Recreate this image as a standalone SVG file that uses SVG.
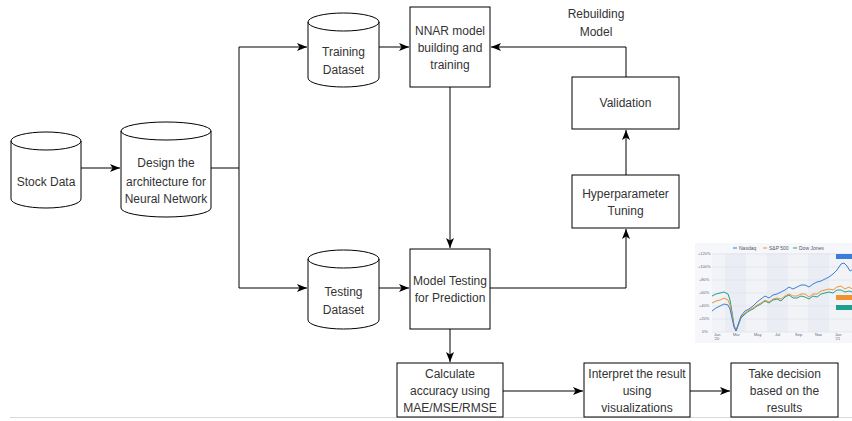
<svg xmlns="http://www.w3.org/2000/svg" width="852" height="421" viewBox="0 0 852 421">
<style>
.s{fill:#fff;stroke:#000;stroke-width:1}
.t{font-family:"Liberation Sans",Arial,sans-serif;font-size:12px;fill:#333;text-anchor:middle}
.c{fill:none;stroke:#000;stroke-width:1}
.ax{font-family:"Liberation Sans",Arial,sans-serif;font-size:4px;fill:#667}
.lg{font-family:"Liberation Sans",Arial,sans-serif;font-size:5px;fill:#556}
</style>
<defs>
<marker id="a" markerUnits="userSpaceOnUse" markerWidth="10" markerHeight="10" viewBox="0 0 10 8" refX="10" refY="4" orient="auto">
<path d="M0,0 L10,4 L0,8 L2.5,4 Z" fill="#000"/>
</marker>
</defs>
<rect width="852" height="421" fill="#fff"/>
<line x1="10" y1="417.5" x2="852" y2="417.5" stroke="#d9d9d9" stroke-width="1"/>

<g id="connectors">
<path class="c" d="M81,168 H120" marker-end="url(#a)"/>
<path class="c" d="M211,168 H239 V47 H307" marker-end="url(#a)"/>
<path class="c" d="M239,168 V288 H307" marker-end="url(#a)"/>
<path class="c" d="M379,47 H409" marker-end="url(#a)"/>
<path class="c" d="M626,77 V47 H491" marker-end="url(#a)"/>
<path class="c" d="M450,87 V248" marker-end="url(#a)"/>
<path class="c" d="M379,288 H409" marker-end="url(#a)"/>
<path class="c" d="M490,288 H626 V229" marker-end="url(#a)"/>
<path class="c" d="M626,175 V130" marker-end="url(#a)"/>
<path class="c" d="M450,329 V362" marker-end="url(#a)"/>
<path class="c" d="M503,391 H583" marker-end="url(#a)"/>
<path class="c" d="M690,391 H730" marker-end="url(#a)"/>
</g>

<g id="stock-data">
<path class="s" d="M11,141 A35,9 0 0 1 81,141 L81,199 A35,9 0 0 1 11,199 Z M11,141 A35,9 0 0 0 81,141"/>
<text class="t" x="46" y="186">Stock Data</text>
</g>

<g id="design">
<path class="s" d="M121,131 A45,9 0 0 1 211,131 L211,208 A45,9 0 0 1 121,208 Z M121,131 A45,9 0 0 0 211,131"/>
<text class="t" x="166" y="167">Design the</text>
<text class="t" x="166" y="186">architecture for</text>
<text class="t" x="166" y="203">Neural Network</text>
</g>

<g id="training-dataset">
<path class="s" d="M308,22 A35.5,9 0 0 1 379,22 L379,78 A35.5,9 0 0 1 308,78 Z M308,22 A35.5,9 0 0 0 379,22"/>
<text class="t" x="343.5" y="56">Training</text>
<text class="t" x="343.5" y="74">Dataset</text>
</g>

<g id="testing-dataset">
<path class="s" d="M308,259 A35.5,9 0 0 1 379,259 L379,320 A35.5,9 0 0 1 308,320 Z M308,259 A35.5,9 0 0 0 379,259"/>
<text class="t" x="343.5" y="296">Testing</text>
<text class="t" x="343.5" y="314">Dataset</text>
</g>

<g id="nnar">
<rect class="s" x="410" y="7" width="80" height="80"/>
<text class="t" x="450" y="35">NNAR model</text>
<text class="t" x="450" y="52">building and</text>
<text class="t" x="450" y="69">training</text>
</g>

<g id="rebuilding-label">
<text class="t" x="596" y="18">Rebuilding</text>
<text class="t" x="596" y="36">Model</text>
</g>

<g id="validation">
<rect class="s" x="572" y="77" width="107" height="52"/>
<text class="t" x="625.5" y="107">Validation</text>
</g>

<g id="hyperparameter">
<rect class="s" x="572" y="175" width="107" height="53"/>
<text class="t" x="625.5" y="198">Hyperparameter</text>
<text class="t" x="625.5" y="215">Tuning</text>
</g>

<g id="model-testing">
<rect class="s" x="410" y="249" width="80" height="80"/>
<text class="t" x="450" y="285">Model Testing</text>
<text class="t" x="450" y="302">for Prediction</text>
</g>

<g id="calculate">
<rect class="s" x="397" y="363" width="106" height="54"/>
<text class="t" x="450" y="378">Calculate</text>
<text class="t" x="450" y="395">accuracy using</text>
<text class="t" x="450" y="412">MAE/MSE/RMSE</text>
</g>

<g id="interpret">
<rect class="s" x="584" y="363" width="106" height="54"/>
<text class="t" x="637" y="378">Interpret the result</text>
<text class="t" x="637" y="395">using</text>
<text class="t" x="637" y="412">visualizations</text>
</g>

<g id="take-decision">
<rect class="s" x="731" y="363" width="107" height="54"/>
<text class="t" x="784.5" y="378">Take decision</text>
<text class="t" x="784.5" y="395">based on the</text>
<text class="t" x="784.5" y="412">results</text>
</g>

<g id="chart">
<rect x="695" y="243" width="157" height="100" fill="#f6f7fa"/>
<rect x="712" y="253" width="140" height="79" fill="#f1f3f7"/>
<rect x="725" y="253" width="21" height="79" fill="#eaedf3"/>
<rect x="767" y="253" width="21" height="79" fill="#eaedf3"/>
<rect x="808" y="253" width="21" height="79" fill="#eaedf3"/>
<g stroke="#dde1e8" stroke-width="0.6">
<line x1="712" y1="254" x2="852" y2="254"/>
<line x1="712" y1="267" x2="852" y2="267"/>
<line x1="712" y1="280" x2="852" y2="280"/>
<line x1="712" y1="293" x2="852" y2="293"/>
<line x1="712" y1="306" x2="852" y2="306"/>
<line x1="712" y1="319" x2="852" y2="319"/>
<line x1="712" y1="332" x2="852" y2="332"/>
</g>
<line x1="733" y1="248" x2="737" y2="248" stroke="#3b7dd8" stroke-width="1"/>
<text class="lg" x="739" y="250">Nasdaq</text>
<line x1="763" y1="248" x2="767" y2="248" stroke="#f0922e" stroke-width="1"/>
<text class="lg" x="769" y="250">S&amp;P 500</text>
<line x1="793" y1="248" x2="797" y2="248" stroke="#1fa08e" stroke-width="1"/>
<text class="lg" x="799" y="250">Dow Jones</text>
<text class="ax" x="698" y="255">+120%</text>
<text class="ax" x="698" y="268">+100%</text>
<text class="ax" x="699" y="281">+80%</text>
<text class="ax" x="699" y="294">+60%</text>
<text class="ax" x="699" y="307">+40%</text>
<text class="ax" x="699" y="320">+20%</text>
<text class="ax" x="702" y="333">0%</text>
<text class="ax" x="714" y="336">Jan</text>
<text class="ax" x="714" y="340">'20</text>
<text class="ax" x="733" y="336">Mar</text>
<text class="ax" x="754" y="336">May</text>
<text class="ax" x="775" y="336">Jul</text>
<text class="ax" x="795" y="336">Sep</text>
<text class="ax" x="815" y="336">Nov</text>
<text class="ax" x="835" y="336">Jan</text>
<text class="ax" x="835" y="340">'21</text>
<polyline fill="none" stroke="#1fa08e" stroke-width="1" points="712,296 716,294 720,293 724,292 728,294 730,300 732,312 734,325 736,331 738,326 741,318 745,314 749,311 753,309 757,306 761,304 765,301 769,303 773,300 777,299 781,301 785,297 789,295 793,298 797,298 801,296 805,297 809,299 813,296 817,297 821,294 825,293 829,292 833,293 837,290 841,290 845,292 849,291 852,292"/>
<polyline fill="none" stroke="#f0922e" stroke-width="1" points="712,303 716,301 720,300 724,298 728,300 730,305 732,315 734,326 736,330 738,325 741,317 745,313 749,310 753,308 757,305 761,303 765,300 769,302 773,299 777,298 781,299 785,296 789,294 793,296 797,296 801,294 805,294 809,297 813,294 817,294 821,291 825,290 829,289 833,290 837,287 841,286 845,289 849,287 852,289"/>
<polyline fill="none" stroke="#3b7dd8" stroke-width="1" points="712,311 716,308 720,306 724,304 728,305 730,309 732,318 734,327 736,331 738,325 741,316 745,311 749,309 753,306 757,302 761,299 765,296 769,298 773,295 777,294 781,292 785,290 789,287 793,289 797,287 801,285 805,285 809,287 813,284 817,282 821,281 825,279 829,277 833,274 837,270 841,264 844,263 847,266 850,271 852,270"/>
<rect x="836" y="254" width="16" height="5" fill="#3b7dd8"/>
<rect x="836" y="295" width="16" height="5" fill="#f0922e"/>
<rect x="836" y="305" width="16" height="5" fill="#1fa08e"/>
</g>
</svg>
